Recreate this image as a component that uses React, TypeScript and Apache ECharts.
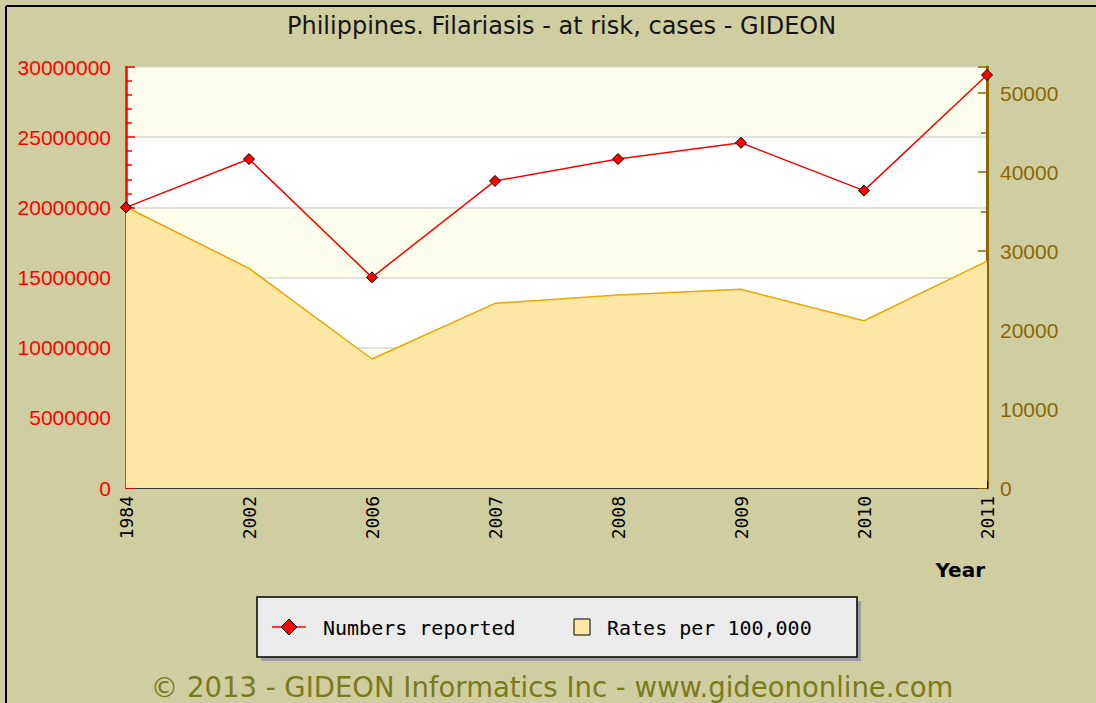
import React, { useEffect, useRef } from "react";
import * as echarts from "echarts";

const titleText = "Philippines. Filariasis - at risk, cases - GIDEON";
const footerText = "© 2013 - GIDEON Informatics Inc - www.gideononline.com";
const xAxisName = "Year";

const years = ["1984", "2002", "2006", "2007", "2008", "2009", "2010", "2011"];
const numbersName = "Numbers reported";
const ratesName = "Rates per 100,000";
const numbersReported = [20000000, 23440000, 15010000, 21880000, 23440000, 24600000, 21190000, 29430000];
const ratesPer100k = [35570, 27810, 16330, 23380, 24430, 25150, 21180, 28730];

const leftAxisMin = 0;
const leftAxisMax = 30000000;
const leftAxisInterval = 5000000;
const rightAxisMin = 0;
const rightAxisMax = 53300;
const rightAxisInterval = 10000;

const BG = "#CFCEA0";
const RED = "#FF0000";
const BROWN = "#8B6508";
const AREA_FILL = "#FCE7A5";
const AREA_LINE = "#EBA800";

export default function App() {
  const ref = useRef<HTMLDivElement>(null);

  useEffect(() => {
    if (!ref.current) return;
    const chart = echarts.init(ref.current, undefined, { renderer: "svg" });
    const plain = (v: number) => String(Math.round(v));
    const option: any = {
      animation: false,
      backgroundColor: BG,
      title: {
        text: titleText,
        left: 282,
        top: 9,
        textStyle: {
          fontFamily: "DejaVu Sans",
          fontSize: 24,
          fontWeight: "normal",
          color: "#151515",
        },
      },
      grid: { left: 126, right: 109, top: 67, bottom: 215, containLabel: false },
      xAxis: {
        type: "category",
        data: years,
        boundaryGap: false,
        axisLine: { show: true, lineStyle: { color: "#000", width: 1.5 } },
        axisTick: { show: true, inside: true, length: 7, lineStyle: { color: "#000", width: 1 } },
        axisLabel: {
          rotate: 90,
          color: "#000",
          fontFamily: "DejaVu Sans Mono",
          fontSize: 18,
          margin: 8,
        },
        splitLine: { show: false },
      },
      yAxis: [
        {
          type: "value",
          position: "left",
          min: leftAxisMin,
          max: leftAxisMax,
          interval: leftAxisInterval,
          axisLine: { show: true, lineStyle: { color: RED, width: 2.5 } },
          axisTick: { show: true, inside: true, length: 9, lineStyle: { color: RED, width: 1.5 } },
          minorTick: { show: true, splitNumber: 5, length: 6, lineStyle: { color: RED, width: 1.5 } },
          axisLabel: {
            color: RED,
            fontFamily: "Liberation Sans",
            fontSize: 21,
            margin: 15,
            formatter: plain,
          },
          splitLine: { show: true, lineStyle: { color: "#D9D9D9", width: 1.5 } },
          splitArea: { show: true, areaStyle: { color: ["#FFFFFF", "#FEFEEC"] } },
        },
        {
          type: "value",
          position: "right",
          min: rightAxisMin,
          max: rightAxisMax,
          interval: rightAxisInterval,
          axisLine: { show: true, lineStyle: { color: BROWN, width: 3 } },
          axisTick: { show: true, inside: true, length: 9, lineStyle: { color: BROWN, width: 1.5 } },
          minorTick: { show: true, splitNumber: 2, length: 6, lineStyle: { color: BROWN, width: 1.5 } },
          axisLabel: {
            color: BROWN,
            fontFamily: "Liberation Sans",
            fontSize: 21,
            margin: 13,
            showMaxLabel: false,
            formatter: plain,
          },
          splitLine: { show: false },
          splitArea: { show: false },
        },
      ],
      series: [
        {
          name: ratesName,
          type: "line",
          yAxisIndex: 1,
          data: ratesPer100k,
          symbol: "none",
          lineStyle: { color: AREA_LINE, width: 1.5 },
          areaStyle: { color: AREA_FILL, opacity: 1 },
          z: 2,
        },
        {
          name: numbersName,
          type: "line",
          yAxisIndex: 0,
          data: numbersReported,
          symbol: "diamond",
          symbolSize: 11,
          lineStyle: { color: RED, width: 1.5 },
          itemStyle: { color: RED, borderColor: "#000", borderWidth: 1 },
          z: 3,
        },
      ],
      graphic: [
        { type: "line", shape: { x1: 6, y1: 6, x2: 1096, y2: 6 }, style: { stroke: "#000", lineWidth: 2 }, z: 10 },
        { type: "line", shape: { x1: 6, y1: 6, x2: 6, y2: 703 }, style: { stroke: "#000", lineWidth: 2 }, z: 10 },
        {
          type: "text",
          x: 985,
          y: 570,
          style: {
            text: xAxisName,
            font: "bold 20px 'DejaVu Sans'",
            fill: "#000",
            align: "right",
            verticalAlign: "middle",
          },
        },
        { type: "rect", shape: { x: 261, y: 601, width: 600, height: 60 }, style: { fill: "#9C9C9C" }, z: 5 },
        {
          type: "rect",
          shape: { x: 257, y: 597, width: 600, height: 60 },
          style: { fill: "#EBEBEB", stroke: "#000", lineWidth: 1.5 },
          z: 6,
        },
        { type: "line", shape: { x1: 272, y1: 627, x2: 306, y2: 627 }, style: { stroke: RED, lineWidth: 1.5 }, z: 7 },
        {
          type: "polygon",
          shape: { points: [[289, 619], [297, 627], [289, 635], [281, 627]] },
          style: { fill: RED, stroke: "#000", lineWidth: 1 },
          z: 8,
        },
        {
          type: "text",
          x: 323,
          y: 628,
          style: {
            text: numbersName,
            font: "20px 'DejaVu Sans Mono'",
            fill: "#000",
            verticalAlign: "middle",
          },
          z: 8,
        },
        {
          type: "rect",
          shape: { x: 574, y: 619, width: 16, height: 16 },
          style: { fill: AREA_FILL, stroke: "#000", lineWidth: 1 },
          z: 8,
        },
        {
          type: "text",
          x: 607,
          y: 628,
          style: {
            text: ratesName,
            font: "20px 'DejaVu Sans Mono'",
            fill: "#000",
            verticalAlign: "middle",
          },
          z: 8,
        },
        {
          type: "text",
          x: 552,
          y: 687,
          style: {
            text: footerText,
            font: "27.5px 'DejaVu Sans'",
            fill: "#7A7A1C",
            align: "center",
            verticalAlign: "middle",
          },
        },
      ],
    };
    chart.setOption(option);
    return () => chart.dispose();
  }, []);

  return (
    <div
      ref={ref}
      style={{ position: "absolute", left: 0, top: 0, width: 1096, height: 703 }}
    />
  );
}
